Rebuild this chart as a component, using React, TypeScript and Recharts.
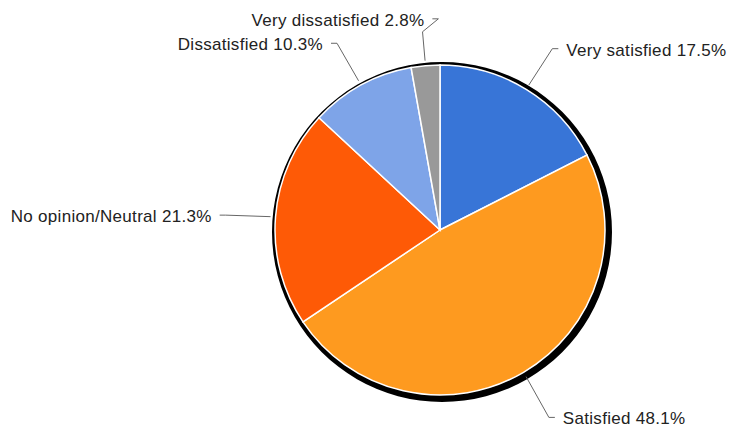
import React from 'react';
import { PieChart, Pie, Cell } from 'recharts';

// Survey responses, clockwise from 12 o'clock
const categories = ['Very satisfied', 'Satisfied', 'No opinion/Neutral', 'Dissatisfied', 'Very dissatisfied'];
const shares = [17.5, 48.1, 21.3, 10.3, 2.8];
const sliceColors = ['#3875d7', '#fe9a1f', '#fe5a06', '#7ea4e8', '#999999'];

const data = categories.map((name, i) => ({ name, value: shares[i] }));
const shadow = [{ name: 'shadow', value: 1 }];

const CX = 440;
const CY = 230;
const R = 165;
const FONT = '"Liberation Sans", Arial, sans-serif';

// Leader line geometry: start just outside the rim, bend radially, then a short horizontal tail.
const LEAD_START = 170;
const LEAD_ELBOW = 215;
const ELBOW_DROP = 2;
const TAIL = 6;
const GAP = 8;

// The thin top slice has its label pushed aside: the line rises, then kinks to the right.
const kinked: Record<string, { bendR: number; elbowR: number; dx: number }> = {
  'Very dissatisfied': { bendR: 199, elbowR: 212, dx: 17 },
};

const RAD = Math.PI / 180;
const polar = (r: number, deg: number) => ({
  x: CX + r * Math.cos(-deg * RAD),
  y: CY + r * Math.sin(-deg * RAD),
});

const renderLabel = (props: any) => {
  const { midAngle, name, value } = props;
  const start = polar(LEAD_START, midAngle);
  const k = kinked[name];
  const pts: { x: number; y: number }[] = [start];
  let elbow;
  if (k) {
    pts.push(polar(k.bendR, midAngle));
    const e = polar(k.elbowR, midAngle);
    elbow = { x: e.x + k.dx, y: e.y };
  } else {
    const e = polar(LEAD_ELBOW, midAngle);
    elbow = { x: e.x, y: e.y + ELBOW_DROP };
  }
  pts.push(elbow);
  const leftSide = Math.cos(midAngle * RAD) < 0;
  const dir = leftSide ? -1 : 1;
  const tailEnd = { x: elbow.x + dir * TAIL, y: elbow.y };
  pts.push(tailEnd);
  const tx = tailEnd.x + dir * GAP;
  return (
    <g key={`lbl-${name}`}>
      <polyline
        points={pts.map((p) => `${p.x},${p.y}`).join(' ')}
        fill="none"
        stroke="#666666"
        strokeWidth={1}
      />
      <text
        x={tx}
        y={elbow.y + 7}
        textAnchor={leftSide ? 'end' : 'start'}
        fontFamily={FONT}
        fontSize={17}
        letterSpacing={0.3}
        fill="#222222"
      >
        {`${name} ${value}%`}
      </text>
    </g>
  );
};

export default function App() {
  return (
    <div style={{ position: 'absolute', left: 0, top: 0, width: 729, height: 428, background: '#ffffff' }}>
      <PieChart width={729} height={428} margin={{ top: 0, right: 0, bottom: 0, left: 0 }}>
        <Pie
          data={shadow}
          dataKey="value"
          cx={CX + 2}
          cy={CY + 2}
          outerRadius={170}
          startAngle={90}
          endAngle={-270}
          fill="#000000"
          stroke="none"
          isAnimationActive={false}
          label={false}
          labelLine={false}
        />
        <Pie
          data={data}
          dataKey="value"
          nameKey="name"
          cx={CX}
          cy={CY}
          outerRadius={R}
          startAngle={90}
          endAngle={-270}
          stroke="#ffffff"
          strokeWidth={1.5}
          isAnimationActive={false}
          label={renderLabel}
          labelLine={false}
        >
          {data.map((d, i) => (
            <Cell key={d.name} fill={sliceColors[i]} />
          ))}
        </Pie>
      </PieChart>
    </div>
  );
}
